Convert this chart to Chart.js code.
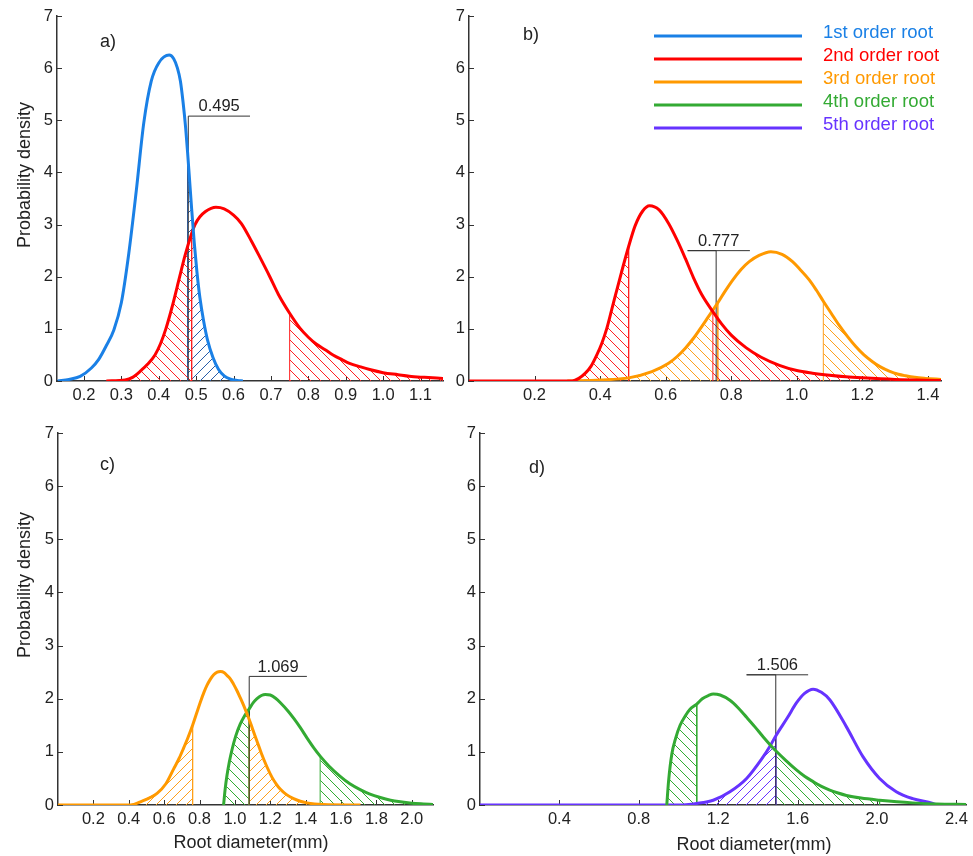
<!DOCTYPE html>
<html>
<head>
<meta charset="utf-8">
<script src="https://cdn.jsdelivr.net/npm/chart.js@4.4.0/dist/chart.umd.min.js"></script>
<style>
  html, body { margin: 0; padding: 0; background: #fff; }
  #wrap { position: relative; width: 973px; height: 856px; }
  #wrap canvas { position: absolute; left: 0; top: 0; }
</style>
</head>
<body>
<div id="wrap">
  <canvas id="chartA" width="973" height="856"></canvas>
  <canvas id="chartB" width="973" height="856"></canvas>
  <canvas id="chartC" width="973" height="856"></canvas>
  <canvas id="chartD" width="973" height="856"></canvas>
</div>
<script>
const orderNames = ['1st order root', '2nd order root', '3rd order root', '4th order root', '5th order root'];
const yTicks = [0, 1, 2, 3, 4, 5, 6, 7];

// a) 1st / 2nd order
const aTicks = [0.2, 0.3, 0.4, 0.5, 0.6, 0.7, 0.8, 0.9, 1.0, 1.1];
const aBlueX = [0.13, 0.16, 0.19, 0.22, 0.24, 0.26, 0.28, 0.30, 0.32, 0.34, 0.36, 0.38, 0.40, 0.428, 0.44, 0.45, 0.458, 0.465, 0.472, 0.477, 0.482, 0.488, 0.495, 0.502, 0.51, 0.52, 0.53, 0.545, 0.56, 0.575, 0.59, 0.61, 0.625];
const aBlueY = [0, 0.03, 0.09, 0.25, 0.42, 0.68, 0.98, 1.5, 2.45, 3.65, 4.95, 5.75, 6.1, 6.25, 6.18, 6.0, 5.75, 5.35, 4.85, 4.4, 3.9, 3.3, 2.65, 2.1, 1.6, 1.15, 0.8, 0.45, 0.22, 0.1, 0.04, 0.01, 0];
const aRedX = [0.26, 0.31, 0.33, 0.354, 0.37, 0.39, 0.405, 0.419, 0.435, 0.456, 0.47, 0.488, 0.497, 0.51, 0.525, 0.54, 0.553, 0.575, 0.60, 0.621, 0.648, 0.67, 0.697, 0.72, 0.75, 0.777, 0.80, 0.821, 0.845, 0.866, 0.89, 0.91, 0.94, 0.964, 1.0, 1.04, 1.07, 1.11, 1.16];
const aRedY = [0, 0.02, 0.07, 0.21, 0.32, 0.5, 0.72, 1.0, 1.4, 2.0, 2.4, 2.83, 3.0, 3.15, 3.25, 3.31, 3.33, 3.3, 3.18, 3.02, 2.68, 2.38, 2.0, 1.66, 1.3, 1.02, 0.84, 0.71, 0.6, 0.5, 0.41, 0.34, 0.27, 0.22, 0.16, 0.12, 0.09, 0.07, 0.05];
const aHatch = [[1, 0.26, 0.488], [0, 0.477, 0.625], [1, 0.75, 1.16]];
const aSplit = { label: '0.495', x: 0.479, top: 5.08, from: 0.479, to: 0.644 };

// b) 2nd / 3rd order
const bTicks = [0.2, 0.4, 0.6, 0.8, 1.0, 1.2, 1.4];
const bRedX = [0, 0.315, 0.335, 0.355, 0.372, 0.39, 0.405, 0.42, 0.435, 0.447, 0.465, 0.487, 0.507, 0.53, 0.551, 0.58, 0.609, 0.635, 0.66, 0.685, 0.71, 0.744, 0.77, 0.80, 0.845, 0.89, 0.947, 1.0, 1.048, 1.1, 1.15, 1.2, 1.3, 1.44];
const bRedY = [0, 0, 0.05, 0.15, 0.28, 0.5, 0.72, 1.0, 1.36, 1.65, 2.08, 2.58, 2.98, 3.26, 3.36, 3.28, 3.02, 2.7, 2.35, 1.98, 1.66, 1.33, 1.1, 0.88, 0.64, 0.46, 0.3, 0.2, 0.15, 0.11, 0.08, 0.06, 0.03, 0.01];
const bOrangeX = [0.30, 0.40, 0.487, 0.558, 0.609, 0.635, 0.66, 0.685, 0.703, 0.73, 0.759, 0.78, 0.805, 0.83, 0.855, 0.885, 0.921, 0.955, 0.987, 1.01, 1.038, 1.06, 1.081, 1.105, 1.129, 1.155, 1.18, 1.205, 1.231, 1.255, 1.282, 1.31, 1.332, 1.36, 1.393, 1.44];
const bOrangeY = [0, 0.02, 0.06, 0.18, 0.34, 0.47, 0.63, 0.82, 0.98, 1.23, 1.5, 1.71, 1.94, 2.14, 2.29, 2.41, 2.48, 2.43, 2.29, 2.14, 1.94, 1.74, 1.53, 1.3, 1.07, 0.85, 0.66, 0.5, 0.37, 0.27, 0.19, 0.13, 0.1, 0.07, 0.05, 0.03];
const bHatch = [[1, 0.315, 0.487], [1, 0.744, 1.44], [2, 0.30, 0.759], [2, 1.081, 1.44]];
const bSplit = { label: '0.777', x: 0.754, top: 2.5, from: 0.667, to: 0.857 };

// c) 3rd / 4th order
const cTicks = [0.2, 0.4, 0.6, 0.8, 1.0, 1.2, 1.4, 1.6, 1.8, 2.0];
const cOrangeX = [0, 0.41, 0.466, 0.56, 0.61, 0.654, 0.685, 0.71, 0.735, 0.761, 0.785, 0.805, 0.825, 0.842, 0.86, 0.88, 0.9, 0.918, 0.94, 0.955, 0.975, 0.993, 1.012, 1.03, 1.05, 1.068, 1.081, 1.1, 1.125, 1.15, 1.181, 1.21, 1.235, 1.256, 1.29, 1.332, 1.37, 1.407, 1.45, 1.5, 1.71];
const cOrangeY = [0, 0, 0.06, 0.22, 0.4, 0.68, 0.88, 1.07, 1.27, 1.5, 1.74, 1.94, 2.12, 2.25, 2.36, 2.45, 2.5, 2.51, 2.49, 2.44, 2.37, 2.27, 2.15, 2.02, 1.87, 1.72, 1.61, 1.43, 1.2, 0.97, 0.72, 0.52, 0.39, 0.3, 0.2, 0.12, 0.07, 0.04, 0.02, 0.01, 0];
const cGreenX = [0.936, 0.945, 0.955, 0.968, 0.983, 1.005, 1.03, 1.055, 1.081, 1.105, 1.125, 1.15, 1.172, 1.2, 1.23, 1.256, 1.3, 1.335, 1.369, 1.41, 1.445, 1.482, 1.53, 1.595, 1.65, 1.708, 1.76, 1.822, 1.88, 1.935, 2.0, 2.066, 2.12];
const cGreenY = [0, 0.3, 0.55, 0.8, 1.03, 1.3, 1.52, 1.68, 1.81, 1.93, 2.0, 2.06, 2.08, 2.07, 2.01, 1.93, 1.77, 1.62, 1.46, 1.25, 1.08, 0.92, 0.74, 0.54, 0.4, 0.29, 0.21, 0.14, 0.09, 0.06, 0.035, 0.02, 0.01];
const cHatch = [[2, 0.41, 0.761], [2, 1.081, 1.5], [3, 0.936, 1.081], [3, 1.482, 2.066]];
const cSplit = { label: '1.069', x: 1.081, top: 2.42, from: 1.081, to: 1.407 };

// d) 4th / 5th order
const dTicks = [0.4, 0.8, 1.2, 1.6, 2.0, 2.4];
const dGreenX = [0.941, 0.95, 0.966, 0.985, 1.008, 1.033, 1.058, 1.092, 1.12, 1.15, 1.175, 1.21, 1.259, 1.3, 1.343, 1.385, 1.427, 1.46, 1.49, 1.54, 1.594, 1.635, 1.678, 1.72, 1.762, 1.8, 1.846, 1.92, 2.013, 2.1, 2.18, 2.3, 2.45];
const dGreenY = [0, 0.45, 0.95, 1.25, 1.5, 1.67, 1.8, 1.9, 2.0, 2.06, 2.09, 2.07, 1.97, 1.83, 1.65, 1.47, 1.28, 1.14, 1.02, 0.84, 0.66, 0.54, 0.44, 0.35, 0.28, 0.23, 0.18, 0.13, 0.09, 0.06, 0.04, 0.02, 0.01];
const dPurpleX = [0, 1.0, 1.092, 1.175, 1.259, 1.343, 1.427, 1.46, 1.49, 1.55, 1.594, 1.635, 1.678, 1.72, 1.762, 1.846, 1.929, 2.013, 2.097, 2.18, 2.281, 2.30];
const dPurpleY = [0, 0, 0.03, 0.09, 0.25, 0.5, 0.91, 1.1, 1.3, 1.65, 1.92, 2.1, 2.18, 2.12, 1.98, 1.47, 0.91, 0.5, 0.25, 0.12, 0.03, 0];
const dHatch = [[3, 0.941, 1.092], [4, 1.0, 1.49], [3, 1.49, 2.013]];
const dSplit = { label: '1.506', x: 1.49, top: 2.45, from: 1.343, to: 1.653 };

// styles
const lineColors = ['#1a80e6', '#ff0000', '#ff9900', '#33aa33', '#6633ff'];
const hatchColors = ['#2a5da8', '#ff2020', '#ff9f1a', '#33aa33', '#6633ff'];
const FONT = "'Liberation Sans', Arial, sans-serif";
const Y_W = 40, X_H = 30, CW = 973, CH = 856;

Chart.defaults.font.family = FONT;
Chart.defaults.font.size = 16.5;
Chart.defaults.color = '#222';

const pts = (xs, ys) => xs.map((x, i) => ({ x, y: ys[i] }));

const segment = (xs, ys, from, to) => {
    const out = [{ x: from, y: 0 }];
    xs.forEach((x, i) => {
        if (x >= from - 1e-9 && x <= to + 1e-9) out.push({ x, y: ys[i] });
    });
    out.push({ x: to, y: 0 });
    return out;
};

// pixel hatch tile, lines 10px apart (keep x+y even, odd diagonals lose their colour in the screenshot)
const hatch = (color, dir) => {
    const c = document.createElement('canvas');
    c.width = 10; c.height = 10;
    const g = c.getContext('2d');
    g.fillStyle = color;
    for (let i = 0; i < 10; i++) {
        g.fillRect(dir === '\\' ? i : (10 - i) % 10, i, 1, 1);
    }
    return g.createPattern(c, 'repeat');
};

const decor = {
    id: 'decor',
    beforeDatasetsDraw(chart, args, o) {
        const { ctx, chartArea: ca, scales: { x, y } } = chart;
        ctx.save();
        ctx.strokeStyle = '#333';
        ctx.lineWidth = 1;
        ctx.beginPath();
        x.ticks.forEach(t => {
            const px = Math.round(x.getPixelForValue(t.value)) + 0.5;
            ctx.moveTo(px, ca.bottom); ctx.lineTo(px, ca.bottom - 5);
        });
        y.ticks.forEach(t => {
            const py = Math.round(y.getPixelForValue(t.value)) + 0.5;
            ctx.moveTo(ca.left, py); ctx.lineTo(ca.left + 5, py);
        });
        ctx.stroke();
        ctx.restore();
    },
    afterDatasetsDraw(chart, args, o) {
        const { ctx, chartArea: ca, scales: { x, y } } = chart;
        ctx.save();
        ctx.fillStyle = '#222';
        // split label
        ctx.font = '16.5px ' + FONT;
        ctx.textAlign = 'center';
        ctx.textBaseline = 'bottom';
        ctx.fillText(o.split.label, x.getPixelForValue((o.split.from + o.split.to) / 2), y.getPixelForValue(o.split.top) - 1);
        // panel tag
        ctx.font = '18px ' + FONT;
        ctx.textAlign = 'left';
        ctx.textBaseline = 'middle';
        ctx.fillText(o.tag.text, ca.left + o.tag.dx, ca.top + o.tag.dy);
        // axis titles
        if (o.yTitle) {
            ctx.save();
            ctx.translate(o.yTitle.x, o.yTitle.y);
            ctx.rotate(-Math.PI / 2);
            ctx.textAlign = 'center';
            ctx.fillText('Probability density', 0, 0);
            ctx.restore();
        }
        if (o.xTitle) {
            ctx.textAlign = 'center';
            ctx.fillText('Root diameter(mm)', o.xTitle.x, o.xTitle.y);
        }
        // legend
        if (o.legend) {
            const L = o.legend;
            orderNames.forEach((name, i) => {
                const ly = L.y + i * L.step;
                ctx.strokeStyle = lineColors[i];
                ctx.lineWidth = 3;
                ctx.beginPath();
                ctx.moveTo(L.x1, ly); ctx.lineTo(L.x2, ly);
                ctx.stroke();
                ctx.fillStyle = lineColors[i];
                ctx.font = '18.5px ' + FONT;
                ctx.textAlign = 'left';
                ctx.fillText(name, L.tx, ly - 3);
            });
        }
        ctx.restore();
    }
};

const buildPanel = (id, p) => {
    const datasets = [];
    p.curves.forEach(([k, xs, ys]) => {
        datasets.push({
            label: orderNames[k],
            data: pts(xs, ys),
            borderColor: lineColors[k],
            borderWidth: 3,
            pointRadius: 0,
            cubicInterpolationMode: 'monotone',
            fill: false,
            order: 1
        });
    });
    p.hatch.forEach(([k, from, to], i) => {
        const src = p.curves.find(c => c[0] === k);
        datasets.push({
            data: segment(src[1], src[2], from, to),
            borderColor: hatchColors[k],
            borderWidth: 1,
            pointRadius: 0,
            tension: 0,
            fill: 'origin',
            backgroundColor: hatch(hatchColors[k], p.dirs[i]),
            order: 3
        });
    });
    const s = p.split;
    datasets.push({
        data: [{ x: s.x, y: 0 }, { x: s.x, y: s.top }, { x: s.from, y: s.top }, { x: s.to, y: s.top }],
        borderColor: '#333',
        borderWidth: 1,
        pointRadius: 0,
        tension: 0,
        fill: false,
        order: 2
    });

    const a = p.area;
    new Chart(document.getElementById(id), {
        type: 'line',
        data: { datasets },
        options: {
            responsive: false,
            animation: false,
            events: [],
            layout: { padding: { left: a.left - Y_W, right: CW - a.right, top: a.top, bottom: CH - a.bottom - X_H } },
            scales: {
                x: {
                    type: 'linear',
                    min: p.xMin,
                    max: p.xMax,
                    grid: { display: false, drawTicks: false },
                    border: { display: true, color: '#333', width: 1.5 },
                    afterBuildTicks: (scale) => { scale.ticks = p.xTicks.map(v => ({ value: v })); },
                    afterFit: (scale) => { scale.height = X_H; },
                    ticks: { autoSkip: false, maxRotation: 0, padding: 5, callback: (v) => v.toFixed(1) }
                },
                y: {
                    type: 'linear',
                    min: 0,
                    max: 7,
                    grid: { display: false, drawTicks: false },
                    border: { display: true, color: '#333', width: 1.5 },
                    afterBuildTicks: (scale) => { scale.ticks = yTicks.map(v => ({ value: v })); },
                    afterFit: (scale) => { scale.width = Y_W; },
                    ticks: { padding: 4 }
                }
            },
            plugins: {
                legend: { display: false },
                tooltip: { enabled: false },
                decor: {
                    split: p.split,
                    tag: p.tag,
                    yTitle: p.yTitle,
                    xTitle: p.xTitle,
                    legend: p.legend
                }
            }
        },
        plugins: [decor]
    });
};

buildPanel('chartA', {
    area: { left: 57, right: 443, top: 16, bottom: 381 },
    xMin: 0.128, xMax: 1.16, xTicks: aTicks,
    curves: [[0, aBlueX, aBlueY], [1, aRedX, aRedY]],
    hatch: aHatch, dirs: ['\\', '/', '\\'],
    split: aSplit,
    tag: { text: 'a)', dx: 43, dy: 26 },
    yTitle: { x: 25, y: 175 }
});

buildPanel('chartB', {
    area: { left: 469, right: 941, top: 16, bottom: 381 },
    xMin: 0, xMax: 1.44, xTicks: bTicks,
    curves: [[1, bRedX, bRedY], [2, bOrangeX, bOrangeY]],
    hatch: bHatch, dirs: ['\\', '\\', '\\', '\\'],
    split: bSplit,
    tag: { text: 'b)', dx: 54, dy: 19 },
    legend: { x1: 654, x2: 802, tx: 823, y: 36, step: 23 }
});

buildPanel('chartC', {
    area: { left: 58, right: 433, top: 433, bottom: 805 },
    xMin: 0, xMax: 2.12, xTicks: cTicks,
    curves: [[2, cOrangeX, cOrangeY], [3, cGreenX, cGreenY]],
    hatch: cHatch, dirs: ['/', '/', '\\', '\\'],
    split: cSplit,
    tag: { text: 'c)', dx: 42, dy: 32 },
    yTitle: { x: 25, y: 585 },
    xTitle: { x: 251, y: 843 }
});

buildPanel('chartD', {
    area: { left: 480, right: 967, top: 433, bottom: 805 },
    xMin: 0, xMax: 2.45, xTicks: dTicks,
    curves: [[3, dGreenX, dGreenY], [4, dPurpleX, dPurpleY]],
    hatch: dHatch, dirs: ['\\', '/', '\\'],
    split: dSplit,
    tag: { text: 'd)', dx: 49, dy: 35 },
    xTitle: { x: 754, y: 845 }
});
</script>
</body>
</html>
